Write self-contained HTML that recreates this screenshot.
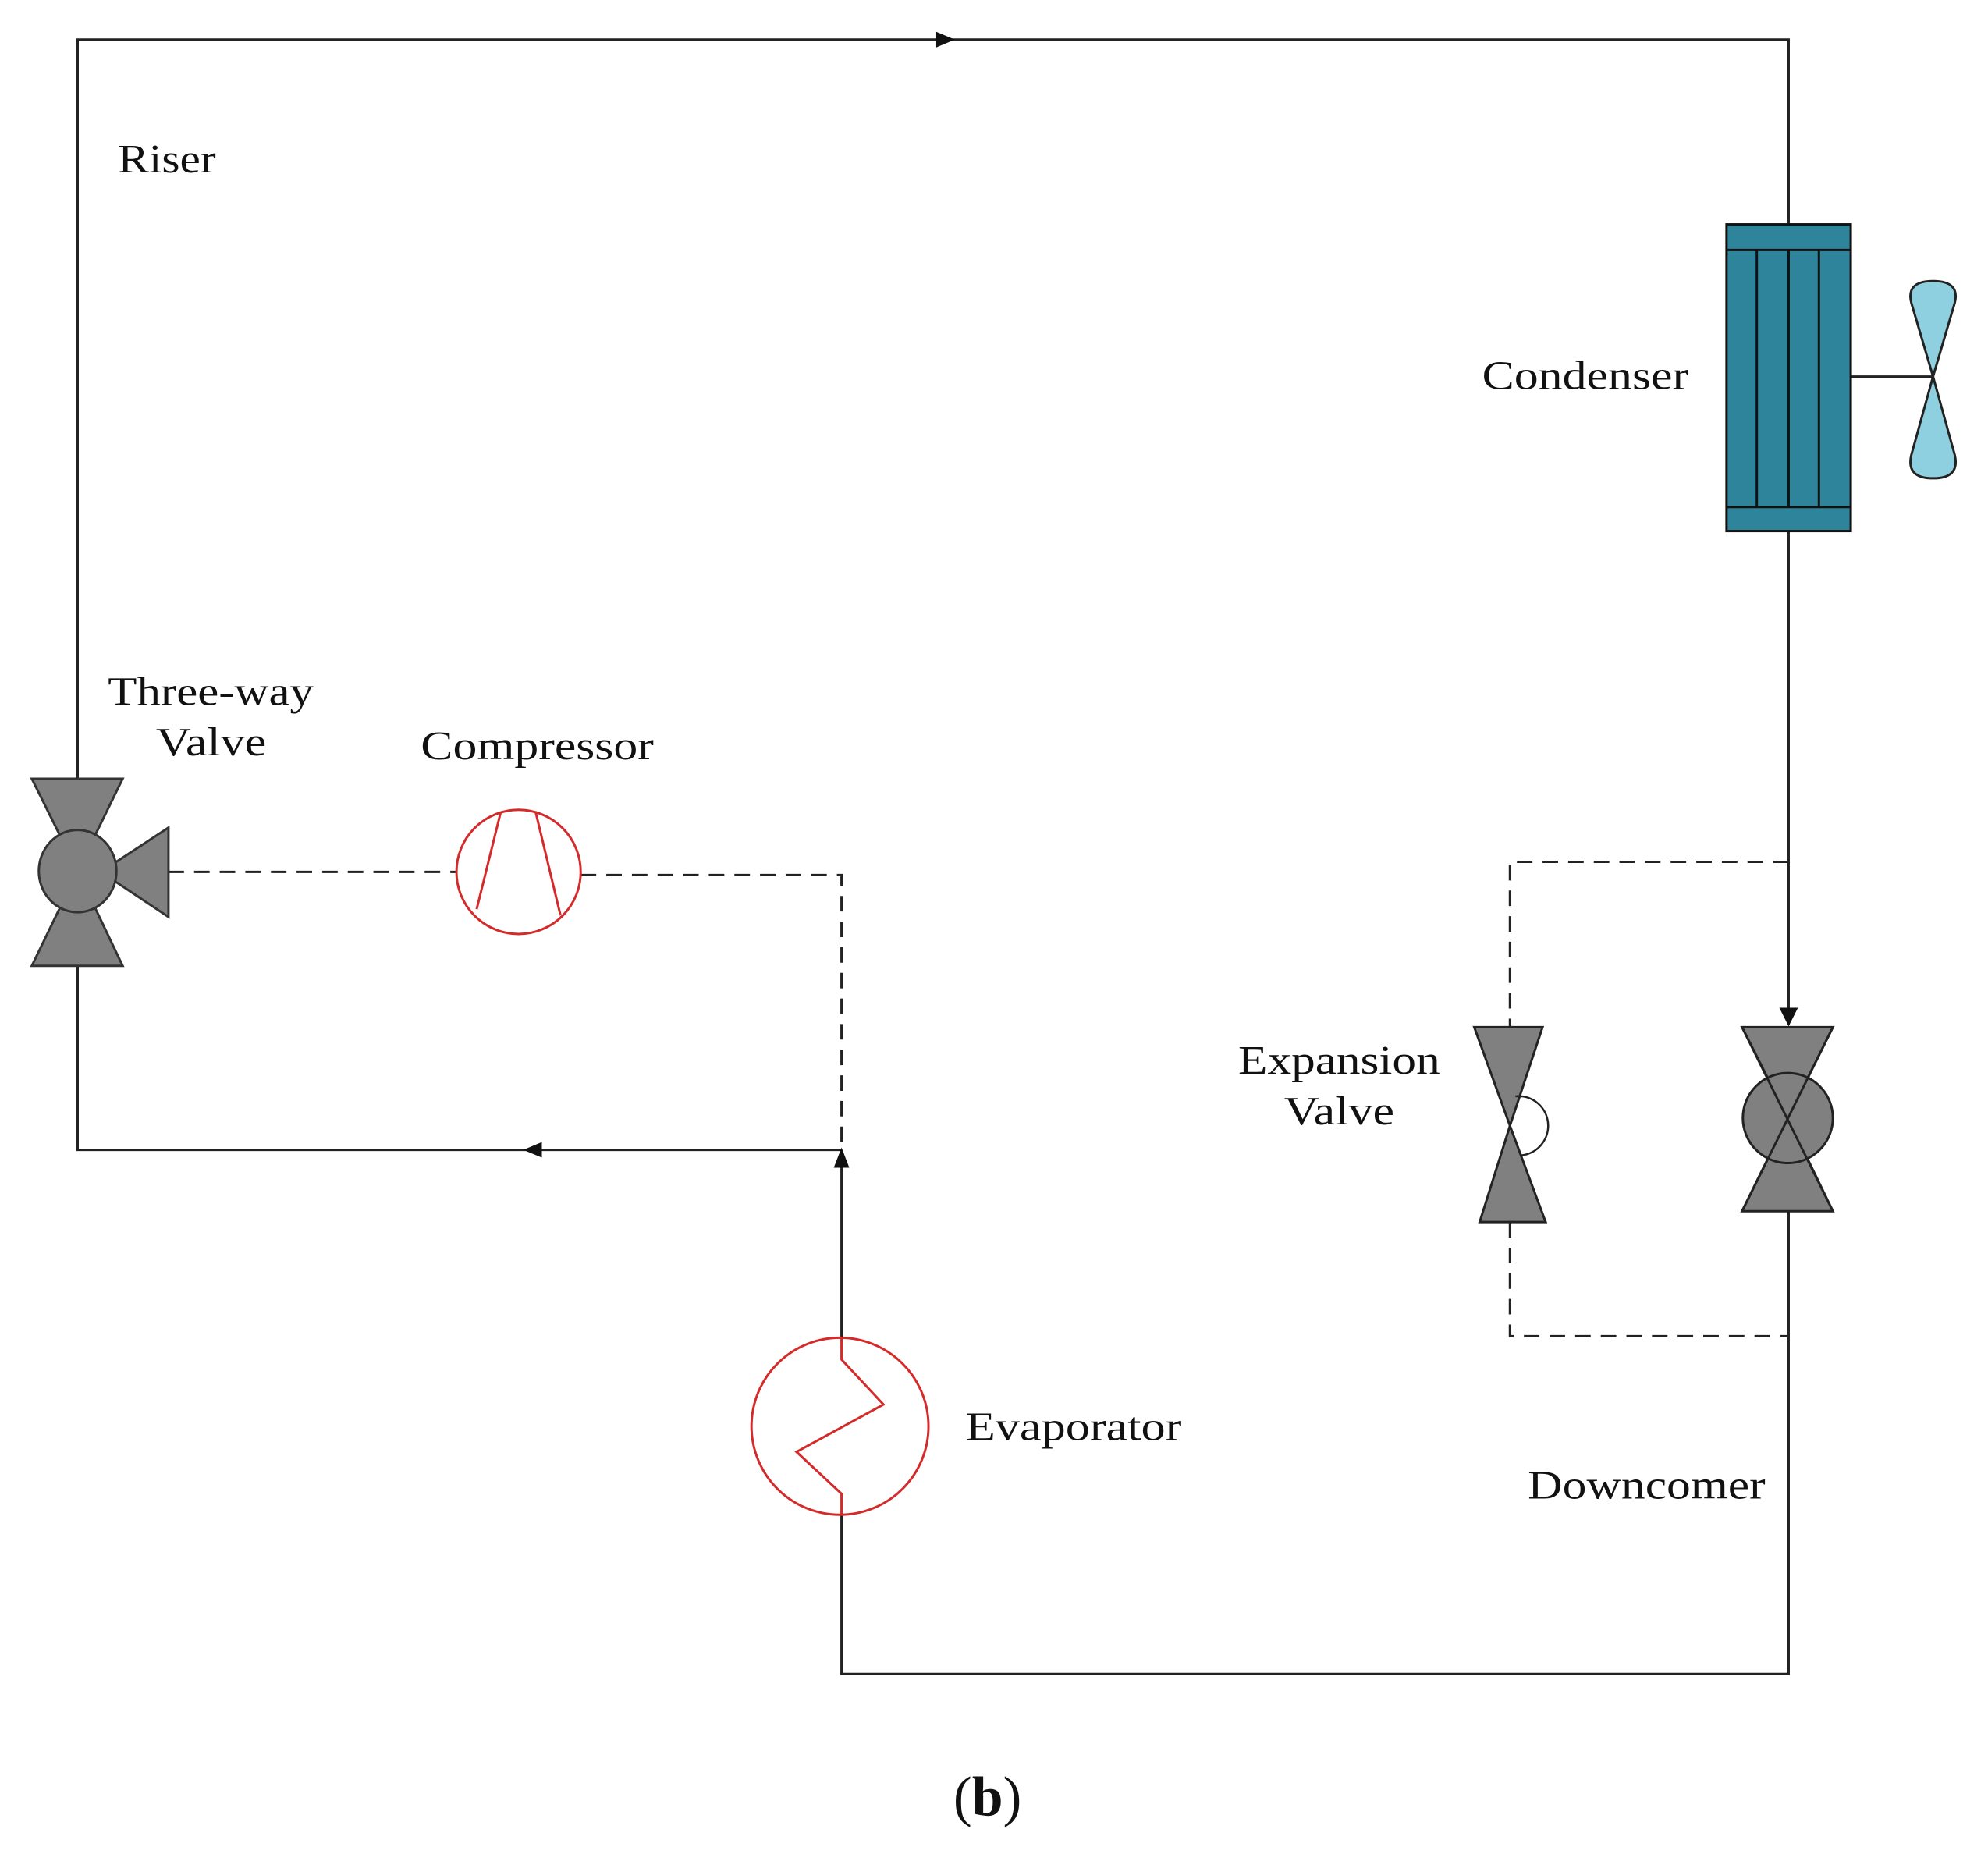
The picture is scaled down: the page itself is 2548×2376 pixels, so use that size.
<!DOCTYPE html>
<html><head><meta charset="utf-8"><style>
html,body{margin:0;padding:0;background:#fff;}
svg{display:block;}
text{font-family:"Liberation Serif",serif;fill:#111;}
</style></head><body>
<svg width="2548" height="2376" viewBox="0 0 2548 2376" xmlns="http://www.w3.org/2000/svg">
<g transform="scale(0.995)">
<g stroke="#222" stroke-width="3" fill="none">
  <polyline points="100,1003 100,51 2304,51 2304,289"/>
  <line x1="2304" y1="684" x2="2304" y2="1320"/>
  <polyline points="2304,1560 2304,2156 1084,2156 1084,1951"/>
  <line x1="1084" y1="1723" x2="1084" y2="1481"/>
  <polyline points="100,1244 100,1481 1084,1481"/>
  <line x1="2384" y1="485" x2="2490" y2="485"/>
</g>
<g stroke="#222" stroke-width="3" fill="none" stroke-dasharray="20,13">
  <line x1="217" y1="1123" x2="588" y2="1123"/>
  <polyline points="748,1127 1084,1127 1084,1478"/>
  <polyline points="2304,1110 1945,1110 1945,1323"/>
  <polyline points="1945,1574 1945,1721 2304,1721"/>
</g>
<g fill="#111">
  <polygon points="1230,51 1206,41 1206,61"/>
  <polygon points="674,1481 698,1471 698,1491"/>
  <polygon points="1084,1478 1074,1504 1094,1504"/>
  <polygon points="2304,1322 2292,1298 2316,1298"/>
</g>
<g stroke="#111" stroke-width="3">
  <rect x="2224" y="289" width="160" height="395" fill="#2e859b"/>
  <line x1="2224" y1="322" x2="2384" y2="322"/>
  <line x1="2224" y1="653" x2="2384" y2="653"/>
  <line x1="2263" y1="322" x2="2263" y2="653"/>
  <line x1="2304" y1="322" x2="2304" y2="653"/>
  <line x1="2343" y1="322" x2="2343" y2="653"/>
</g>
<g stroke="#222" stroke-width="3" fill="#8fd0e0">
  <path d="M2490,485 L2462,390 Q2455,362 2490,362 Q2525,362 2518,390 Z"/>
  <path d="M2490,485 L2462,586 Q2455,616 2490,616 Q2525,616 2518,586 Z"/>
</g>
<g stroke="#333" stroke-width="3" fill="#808080">
  <polygon points="41,1003 158,1003 100,1122"/>
  <polygon points="41,1244 158,1244 100,1122"/>
  <polygon points="217,1066 217,1181 130,1123"/>
  <ellipse cx="100" cy="1122" rx="50" ry="53"/>
</g>
<g stroke="#d42a2a" stroke-width="3" fill="none">
  <ellipse cx="668" cy="1123" rx="80" ry="80"/>
  <line x1="614" y1="1171" x2="645" y2="1046"/>
  <line x1="690" y1="1046" x2="722" y2="1179"/>
</g>
<g stroke="#d42a2a" stroke-width="3" fill="none">
  <ellipse cx="1082" cy="1837" rx="114" ry="114"/>
  <polyline points="1084,1723 1084,1751 1138,1809 1026,1870 1084,1924 1084,1951"/>
</g>
<g stroke="#222" stroke-width="3" fill="#808080">
  <polygon points="2244,1323 2361,1323 2303,1440"/>
  <polygon points="2244,1560 2361,1560 2303,1440"/>
  <ellipse cx="2303" cy="1440" rx="58" ry="58"/>
  <line x1="2244" y1="1323" x2="2361" y2="1560" fill="none"/>
  <line x1="2361" y1="1323" x2="2244" y2="1560" fill="none"/>
</g>
<g stroke="#222" stroke-width="3" fill="#808080">
  <polygon points="1899,1323 1987,1323 1945,1450"/>
  <polygon points="1906,1574 1991,1574 1945,1450"/>
  <path d="M1952,1412 A36,36 0 0 1 1960,1488" fill="none" stroke-width="2.5"/>
</g>
<text x="152" y="222" font-size="52" textLength="126" lengthAdjust="spacingAndGlyphs">Riser</text>
<text x="1909" y="501" font-size="52" textLength="266" lengthAdjust="spacingAndGlyphs">Condenser</text>
<text x="139" y="908" font-size="52" textLength="265" lengthAdjust="spacingAndGlyphs">Three-way</text>
<text x="201" y="973" font-size="52" textLength="142" lengthAdjust="spacingAndGlyphs">Valve</text>
<text x="542" y="978" font-size="52" textLength="300" lengthAdjust="spacingAndGlyphs">Compressor</text>
<text x="1595" y="1383" font-size="52" textLength="260" lengthAdjust="spacingAndGlyphs">Expansion</text>
<text x="1654" y="1448" font-size="52" textLength="142" lengthAdjust="spacingAndGlyphs">Valve</text>
<text x="1244" y="1855" font-size="52" textLength="278" lengthAdjust="spacingAndGlyphs">Evaporator</text>
<text x="1968" y="1930" font-size="52" textLength="306" lengthAdjust="spacingAndGlyphs">Downcomer</text>
<text x="1272" y="2338" font-size="72" text-anchor="middle">(<tspan font-weight="bold">b</tspan>)</text>
</g>
</svg>
</body></html>
